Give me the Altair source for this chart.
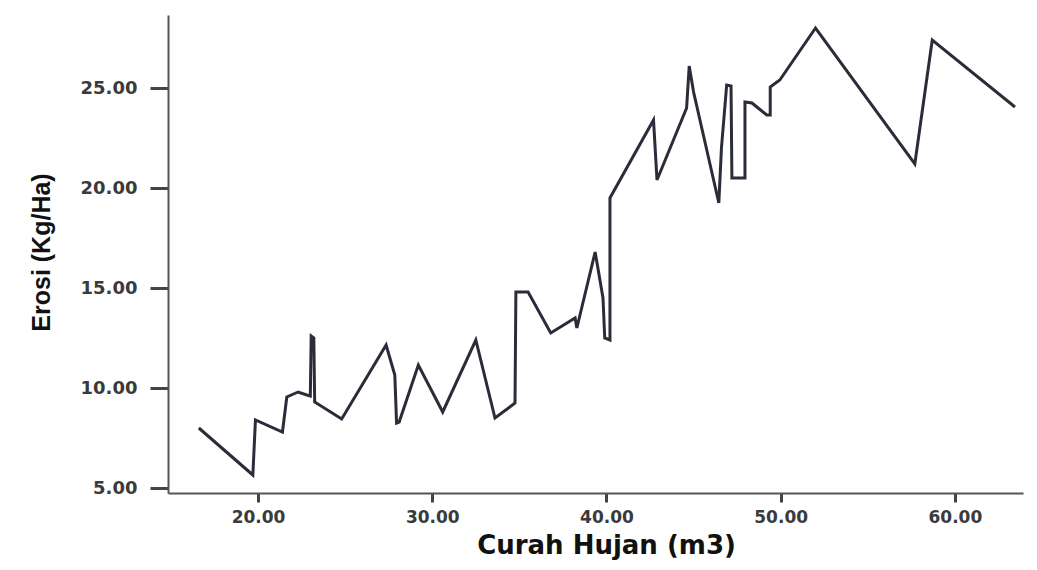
import altair as alt
import pandas as pd

curah_hujan = [16.6, 19.7, 19.85, 21.4, 21.65, 22.3, 22.8, 23.0, 23.05, 23.2, 23.25, 24.8,
               27.35, 27.85, 27.95, 28.1, 29.2, 30.6, 32.5, 33.6, 34.75, 34.8, 35.5, 36.8,
               38.2, 38.3, 39.35, 39.8, 39.9, 40.2, 40.2, 42.7, 42.9, 44.6, 44.75, 45.0,
               46.45, 46.6, 46.9, 47.15, 47.2, 47.95, 47.95, 48.35, 49.2, 49.4, 49.4, 49.95,
               52.0, 57.7, 58.7, 63.45]
erosi = [8.0, 5.65, 8.4, 7.8, 9.55, 9.8, 9.65, 9.6, 12.6, 12.5, 9.3, 8.45,
         12.15, 10.65, 8.25, 8.3, 11.15, 8.8, 12.4, 8.5, 9.25, 14.8, 14.8, 12.75,
         13.5, 13.0, 16.8, 14.5, 12.5, 12.4, 19.5, 23.4, 20.4, 24.0, 26.1, 24.8,
         19.25, 22.0, 25.15, 25.1, 20.5, 20.5, 24.3, 24.25, 23.65, 23.65, 25.05, 25.4,
         28.0, 21.2, 27.4, 24.05]
x_ticks = [20, 30, 40, 50, 60]
y_ticks = [5, 10, 15, 20, 25]

df = pd.DataFrame({"x": curah_hujan, "y": erosi, "idx": list(range(len(erosi)))})

W, H = 855, 478

chart = alt.Chart(df).mark_line(color="#2a2c3a", strokeWidth=3, strokeJoin="miter").encode(
    x=alt.X("x:Q",
            scale=alt.Scale(domain=[14.83, 63.91], nice=False, zero=False),
            axis=alt.Axis(values=x_ticks, format=".2f", title="Curah Hujan (m3)",
                          grid=False, domainColor="#555555", domainWidth=2,
                          tickColor="#444444", tickWidth=3, tickSize=9,
                          labelFont="DejaVu Sans", labelFontWeight="bold", labelFontSize=17,
                          labelColor="#3a3a3a", labelPadding=7,
                          titleFont="DejaVu Sans", titleFontWeight="bold", titleFontSize=26,
                          titleColor="#111111", titleX=438, titleY=60,
                          titleBaseline="alphabetic", titleAlign="center")),
    y=alt.Y("y:Q",
            scale=alt.Scale(domain=[4.75, 28.65], nice=False, zero=False),
            axis=alt.Axis(values=y_ticks, format=".2f", title="Erosi (Kg/Ha)",
                          grid=False, domainColor="#555555", domainWidth=2,
                          tickColor="#444444", tickWidth=3, tickSize=18,
                          labelFont="DejaVu Sans", labelFontWeight="bold", labelFontSize=18,
                          labelColor="#3a3a3a", labelPadding=13,
                          titleFont="Liberation Sans", titleFontWeight="bold", titleFontSize=25,
                          titleColor="#111111", titleX=-127, titleY=H / 2 - 2,
                          titleAngle=270, titleBaseline="middle", titleAlign="center")),
    order="idx:Q",
).properties(
    width=W, height=H,
    autosize=alt.AutoSizeParams(type="none"),
    padding={"left": 160, "top": 7, "right": 4, "bottom": 67},
    background="white",
).configure_view(stroke=None)

chart.save("out.html", embed_options={"renderer": "svg", "actions": False})
